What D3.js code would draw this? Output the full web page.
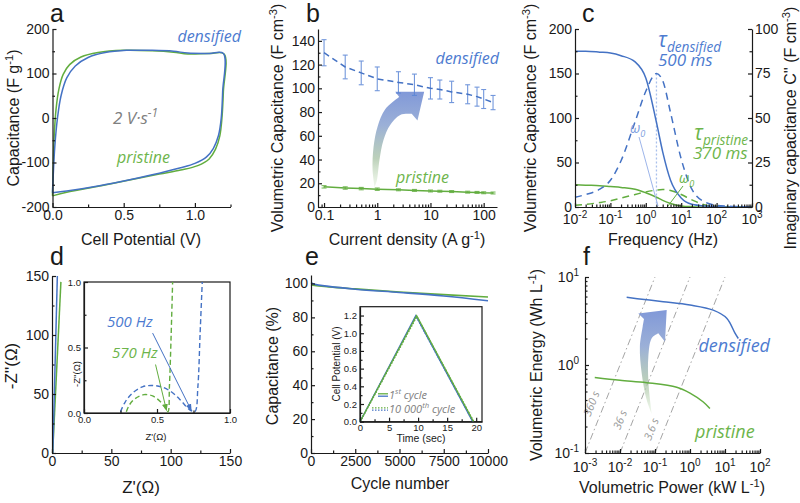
<!DOCTYPE html>
<html>
<head>
<meta charset="utf-8">
<script src="https://cdn.jsdelivr.net/npm/d3@7/dist/d3.min.js"></script>
<style>
  body { margin: 0; background: #fff; }
  svg { display: block; font-family: "Liberation Sans", Arial, sans-serif; }
</style>
</head>
<body>
<script>
// ---------------- data ----------------

// a: CV loops at 2 V/s, [potential V, capacitance F/g], charge branch then discharge branch
var cvDensified = [[0,-168],[0.005,-130],[0.016,-65],[0.035,0],[0.06,50],[0.1,90],[0.16,117],[0.25,136],[0.37,147],[0.52,152],[0.7,152],[0.85,150],[0.95,146],[1.1,145],[1.2,145],
    [1.195,60],[1.185,0],[1.165,-40],[1.13,-68],[1.08,-88],[1.0,-102],[0.9,-112],[0.75,-124],[0.55,-138],[0.33,-152],[0.1,-164],[0,-168]]
var cvPristine = [[0,-175],[0.004,-120],[0.012,-40],[0.025,20],[0.045,65],[0.075,98],[0.12,120],[0.2,137],[0.32,147],[0.5,152],[0.7,151],[0.85,148],[0.95,144],[1.1,145],[1.205,144],
    [1.2,60],[1.19,0],[1.175,-40],[1.145,-70],[1.1,-92],[1.02,-107],[0.9,-117],[0.75,-126],[0.55,-139],[0.33,-153],[0.1,-167],[0,-175]]

// b: rate capability
var currentDensity = [0.1, 0.25, 0.5, 1, 2.5, 5, 10, 15, 25, 50, 75, 100, 150]
var volCapDensified = [130, 118, 113, 108, 105, 103, 100, 99, 97, 95, 93, 91, 88]
var volCapDensifiedErr = [11, 10, 10, 10, 9, 9, 9, 8, 9, 8, 8, 8, 6]
var volCapPristine = [17, 16, 15.5, 15, 14.5, 14, 13.5, 13.3, 13, 12.5, 12.3, 12, 11.8]
var volCapPristineErr = [1, 1, 1, 1, 0.8, 0.8, 0.8, 0.8, 0.8, 0.8, 0.8, 0.8, 0.8]

// c: capacitance vs frequency (real part left axis, imaginary part right axis)
var frequency = [0.01, 0.02, 0.05, 0.1, 0.2, 0.5, 1, 2, 3, 5, 10, 20, 50, 100, 200, 500, 1000]
var cRealDensified = [175, 175, 174, 173, 170, 163, 145, 95, 62, 30, 10, 3, 1, 0.3, 0.1, 0, 0]
var cImagDensified = [5.5, 7, 10, 15, 26, 48, 65, 75, 71, 53, 27, 10, 2.5, 1, 0.5, 0.2, 0.1]
var cRealPristine = [25, 24.5, 24, 23, 22, 20, 16, 11, 7.5, 4, 1.2, 0.4, 0.1, 0, 0, 0, 0]
var cImagPristine = [1, 1.5, 2.5, 3.5, 5, 7, 8.5, 9.5, 9.8, 9.3, 7, 4, 1, 0.4, 0.2, 0.1, 0]
var peakFreqDensified = 2

// d: Nyquist plots, [Z', -Z'']
var nyqDensified = [[0.7, 0], [4.5, 150]]
var nyqPristine = [[0.55, 0], [7.5, 145]]
var nyqInsetDensified = [[0.25,0.01],[0.28,0.08],[0.33,0.15],[0.4,0.2],[0.46,0.21],[0.53,0.2],[0.6,0.16],[0.66,0.1],[0.7,0.05],[0.73,0.02],[0.76,0.01],[0.78,0.2],[0.795,0.6],[0.81,1.0]]
var nyqInsetPristine = [[0.29,0.01],[0.31,0.06],[0.35,0.11],[0.41,0.14],[0.47,0.13],[0.52,0.09],[0.55,0.05],[0.575,0.01],[0.585,0.2],[0.597,0.6],[0.607,1.0]]

// e: cycling
var cycles = [0, 200, 1000, 2500, 5000, 7500, 10000]
var retentionDensified = [100.5, 99.5, 98.3, 96.6, 94.7, 92.6, 89.8]
var retentionPristine = [99.2, 98.8, 98, 96.8, 95, 93.4, 92]
var gcdFirstDensified = [[0, 0], [9.6, 1.2], [19.4, 0]]
var gcdFirstPristine = [[0, 0], [9.75, 1.2], [19.55, 0]]
var gcdLastDensified = [[0, 0], [9.65, 1.19], [19.45, 0]]
var gcdLastPristine = [[0.05, 0], [9.8, 1.19], [19.6, 0]]

// f: Ragone plot, [power kW/L, energy Wh/L]
var ragoneDensified = [[0.0155,5.87],[0.05,5.55],[0.172,5.24],[1,4.8],[4.6,4.2],[11.2,3.4],[19.3,2.3],[24,2.0]]
var ragonePristine = [[0.0019,0.72],[0.01,0.67],[0.058,0.63],[0.417,0.56],[1,0.48],[2.4,0.38],[3.7,0.32]]
var timeConstants = [360, 36, 3.6]   // seconds, E = P * t / 3.6

// the two gradient arrows, outline in data units: left edge, head corner, tip, head corner, right edge
var arrowB = [[0.89,16.6],[0.817,31.2],[0.853,50.8],[1.013,67.7],[1.41,82.4],[2.59,92.7],[2.18,97.2],[7.62,97.2],[5.7,72.8],[4.48,78.4],[2.7,77.6],[1.75,69.1],[1.31,56.5],[1.1,39.6],[0.987,22.8]]
var arrowF = [[0.0805,0.277],[0.058,0.40],[0.0417,0.805],[0.037,1.61],[0.0444,2.72],[0.0485,3.33],[0.0333,3.86],[0.216,4.22],[0.193,1.84],[0.124,2.29],[0.0805,2.01],[0.0645,1.24],[0.0645,0.676],[0.072,0.40]]

// ---------------- drawing ----------------
var INK = "#1a1a1a", BLUE = "#4472c4", GREEN = "#62ad3f", GRAY = "#808080"
var BLUE_T = "#4d7bd0", GREEN_T = "#6db54b"
var ITAL = "'Open Sans', 'Noto Sans', sans-serif"

var svg = d3.select("body").append("svg").attr("width", 800).attr("height", 503)
var defs = svg.append("defs")

function axis(orient, scale, at, major, minor, fmt, fs) {
    var make = {left: d3.axisLeft, right: d3.axisRight, bottom: d3.axisBottom, top: d3.axisTop}[orient]
    var vertical = orient == "left" || orient == "right"
    var g = svg.append("g").attr("transform", vertical ? "translate(" + at + ",0)" : "translate(0," + at + ")")
    g.call(make(scale).tickValues(major).tickSizeInner(-4).tickSizeOuter(0).tickPadding(3).tickFormat(fmt || (d => String(d))))
    if (minor) {
        g.append("g").call(make(scale).tickValues(minor).tickSizeInner(-2.5).tickSizeOuter(0).tickFormat(""))
            .select(".domain").remove()
    }
    g.attr("font-family", null).attr("font-size", fs || 14)
    g.selectAll("text").attr("fill", INK)
    g.selectAll("line,path").attr("stroke", INK).attr("stroke-width", 1.2)
    return g
}

function powLabels(orient, scale, at, exps, off) {
    exps.forEach(function(e) {
        var t = svg.append("text").attr("font-size", 14).attr("fill", INK)
        if (orient == "bottom") t.attr("x", scale(Math.pow(10, e))).attr("y", at + off).attr("text-anchor", "middle")
        else t.attr("x", at - off).attr("y", scale(Math.pow(10, e)) + 5).attr("text-anchor", "end")
        t.append("tspan").text("10")
        t.append("tspan").attr("dy", -6).attr("font-size", 10).text(e < 0 ? "-" + (-e) : e)
    })
}

function logMinor(lo, hi) {
    var out = []
    for (var e = lo; e < hi; e++) for (var k = 2; k < 10; k++) out.push(k * Math.pow(10, e))
    return out
}

// text with ^superscript and _subscript pieces
function txt(x, y, parts, o) {
    o = o || {}
    var fs = o.size || 16
    var t = svg.append("text")
        .attr("transform", "translate(" + x + "," + y + ")" + (o.rotate ? " rotate(" + o.rotate + ")" : ""))
        .attr("text-anchor", o.anchor || "middle")
        .attr("font-size", fs)
        .attr("fill", o.color || INK)
    if (o.italic) t.attr("font-style", "italic").attr("font-family", ITAL)
    var shift = 0
    parts.forEach(function(p) {
        var s = t.append("tspan"), dy = 0
        if (p[0] == "^") { dy = -0.4 * fs; s.attr("font-size", 0.7 * fs); p = p.slice(1) }
        else if (p[0] == "_") { dy = 0.25 * fs; s.attr("font-size", 0.65 * fs); p = p.slice(1) }
        s.attr("dy", dy - shift).text(p)
        shift = dy
    })
    return t
}

function letter(x, y, s) {
    svg.append("text").attr("x", x).attr("y", y).attr("font-size", 25).attr("fill", INK).text(s)
}

function gradient(id) {
    var g = defs.append("linearGradient").attr("id", id).attr("x1", 0).attr("y1", 0).attr("x2", 0).attr("y2", 1)
    ;[[0, "#7a93d6", 0.95], [0.35, "#90a7d3", 0.9], [0.7, "#a6c1a3", 0.75], [1, "#d3e8c8", 0.35]].forEach(function(s) {
        g.append("stop").attr("offset", s[0]).attr("stop-color", s[1]).attr("stop-opacity", s[2])
    })
}
gradient("arrowGrad")

function arrowPath(pts, xs, ys) {
    var P = pts.map(function(p) { return [xs(p[0]), ys(p[1])] })
    var curve = d3.line().curve(d3.curveCatmullRom.alpha(0.5))
    var left = curve(P.slice(0, 6))
    var right = curve(P.slice(9).concat([P[0]]))
    return left + "L" + P[6] + "L" + P[7] + "L" + P[8] + "L" + right.slice(1) + "Z"
}

function marker(id, color) {
    defs.append("marker").attr("id", id).attr("viewBox", "0 0 10 10").attr("refX", 9).attr("refY", 5)
        .attr("markerWidth", 7).attr("markerHeight", 7).attr("orient", "auto")
        .append("path").attr("d", "M0,1L10,5L0,9Z").attr("fill", color)
}
marker("headBlue", BLUE)
marker("headGreen", GREEN)

function path(data, xs, ys, color, w, dash, curve) {
    var ln = d3.line().x(d => xs(d[0])).y(d => ys(d[1]))
    if (curve) ln.curve(curve)
    return svg.append("path").attr("d", ln(data)).attr("fill", "none").attr("stroke", color)
        .attr("stroke-width", w).attr("stroke-dasharray", dash || null)
}

// ---------- a ----------
var xA = d3.scaleLinear().domain([0, 1.25]).range([52.5, 230.5])
var yA = d3.scaleLinear().domain([-200, 200]).range([207, 29])
path(cvPristine, xA, yA, GREEN, 1.5, null, d3.curveCatmullRom.alpha(0.5))
path(cvDensified, xA, yA, BLUE, 1.5, null, d3.curveCatmullRom.alpha(0.5))
axis("bottom", xA, 207, [0, 0.5, 1.0], [0.25, 0.75, 1.25], d3.format(".1f"))
axis("left", yA, 52.5, [-200, -100, 0, 100, 200], [-150, -50, 50, 150])
txt(19, 118, ["Capacitance (F g", "^-1", ")"], {rotate: -90})
txt(141, 245, ["Cell Potential (V)"])
letter(50, 22, "a")
txt(241, 42, ["densified"], {italic: true, color: BLUE_T, anchor: "end"})
txt(113, 124, ["2 V·s", "^-1"], {italic: true, color: GRAY, anchor: "start", size: 17})
txt(117, 163, ["pristine"], {italic: true, color: GREEN_T, anchor: "start"})

// ---------- b ----------
var xB = d3.scaleLog().domain([0.077, 178]).range([318, 497])
var yB = d3.scaleLinear().domain([0, 150]).range([207, 29])
var bDens = currentDensity.map((c, i) => [c, volCapDensified[i], volCapDensifiedErr[i]])
var bPris = currentDensity.map((c, i) => [c, volCapPristine[i], volCapPristineErr[i]])
svg.append("path").attr("d", arrowPath(arrowB, xB, yB)).attr("fill", "url(#arrowGrad)")
;[[bDens, "#5b86d6"], [bPris, GREEN]].forEach(function(s) {
    var g = svg.append("g").attr("stroke", s[1]).attr("stroke-width", 1.1).attr("opacity", 0.85)
    s[0].forEach(function(d) {
        var x = xB(d[0]), y0 = yB(d[1] - d[2]), y1 = yB(d[1] + d[2])
        g.append("line").attr("x1", x).attr("x2", x).attr("y1", y0).attr("y2", y1)
        g.append("line").attr("x1", x - 2.5).attr("x2", x + 2.5).attr("y1", y0).attr("y2", y0)
        g.append("line").attr("x1", x - 2.5).attr("x2", x + 2.5).attr("y1", y1).attr("y2", y1)
    })
})
path(bDens, xB, yB, BLUE, 1.5, "6,4")
path(bPris, xB, yB, GREEN, 1.5)
axis("bottom", xB, 207, [0.1, 1, 10, 100], logMinor(-1, 2).concat([0.09]).filter(v => v < 178), d3.format("~g"))
axis("left", yB, 318, d3.range(0, 141, 20), d3.range(10, 150, 20))
txt(283, 118, ["Volumetric Capacitance (F cm", "^-3", ")"], {rotate: -90})
txt(407, 245, ["Current density (A g", "^-1", ")"])
letter(306, 22, "b")
txt(499, 64, ["densified"], {italic: true, color: BLUE_T, anchor: "end"})
txt(396, 183, ["pristine"], {italic: true, color: GREEN_T, anchor: "start"})

// ---------- c ----------
var xC = d3.scaleLog().domain([0.01, 1000]).range([575, 752])
var yCL = d3.scaleLinear().domain([0, 200]).range([207, 29])
var yCR = d3.scaleLinear().domain([0, 100]).range([207, 29])
var cPair = (ys) => frequency.map((f, i) => [f, ys[i]])
svg.append("line").attr("x1", xC(peakFreqDensified)).attr("x2", xC(peakFreqDensified))
    .attr("y1", yCR(75)).attr("y2", yCR(0)).attr("stroke", "#a9c0ec").attr("stroke-width", 1.3).attr("stroke-dasharray", "2,2")
var mono = d3.curveMonotoneX
path(cPair(cImagPristine), xC, yCR, GREEN, 1.5, "7,5", mono)
path(cPair(cRealPristine), xC, yCL, GREEN, 1.5, null, mono)
path(cPair(cImagDensified), xC, yCR, BLUE, 1.5, "7,5", mono)
path(cPair(cRealDensified), xC, yCL, BLUE, 1.5, null, mono)
axis("bottom", xC, 207, [0.01, 0.1, 1, 10, 100, 1000], logMinor(-2, 3), () => "")
powLabels("bottom", xC, 207, [-2, -1, 0, 1, 2, 3], 17)
axis("left", yCL, 575, [0, 50, 100, 150, 200], [25, 75, 125, 175])
axis("right", yCR, 752, [0, 25, 50, 75, 100], [12.5, 37.5, 62.5, 87.5])
txt(536, 118, ["Volumetric Capacitance (F cm", "^-3", ")"], {rotate: -90})
txt(796, 128, ["Imaginary capacitance C'' (F cm", "^-3", ")"], {rotate: -90})
txt(663, 245, ["Frequency (Hz)"])
letter(582, 22, "c")
txt(658, 47, ["τ", "_densified"], {italic: true, color: BLUE_T, anchor: "start", size: 21})
txt(658, 66, ["500 ms"], {italic: true, color: BLUE_T, anchor: "start", size: 17})
txt(694, 140, ["τ", "_pristine"], {italic: true, color: GREEN_T, anchor: "start", size: 21})
txt(693, 159, ["370 ms"], {italic: true, color: GREEN_T, anchor: "start", size: 17})
txt(630, 133, ["ω", "_0"], {italic: true, color: "#7f9fe0", anchor: "start", size: 14})
txt(679, 183, ["ω", "_0"], {italic: true, color: GREEN_T, anchor: "start", size: 14})
svg.append("line").attr("x1", 639).attr("y1", 137).attr("x2", 658).attr("y2", 206).attr("stroke", "#9db5ea").attr("stroke-width", 1)
svg.append("line").attr("x1", 683).attr("y1", 186).attr("x2", 668).attr("y2", 206).attr("stroke", GREEN).attr("stroke-width", 1)

// ---------- d ----------
var xD = d3.scaleLinear().domain([0, 150]).range([52, 230])
var yD = d3.scaleLinear().domain([0, 150]).range([453, 276])
path(nyqPristine, xD, yD, GREEN, 1.5)
path(nyqDensified, xD, yD, BLUE, 1.5)
axis("bottom", xD, 453, [0, 50, 100, 150], [25, 75, 125])
axis("left", yD, 52, [0, 50, 100, 150], [25, 75, 125])
txt(17, 366, ["-Z''(Ω)"], {rotate: -90, size: 17})
txt(141, 493, ["Z'(Ω)"], {size: 17})
letter(50, 265, "d")
// inset
var xDi = d3.scaleLinear().domain([0, 1]).range([84, 230])
var yDi = d3.scaleLinear().domain([0, 1]).range([413, 282])
svg.append("rect").attr("x", 84).attr("y", 282).attr("width", 146).attr("height", 131)
    .attr("fill", "#fff").attr("stroke", INK).attr("stroke-width", 1.2)
path(nyqInsetPristine, xDi, yDi, GREEN, 1.4, "5,3", d3.curveCatmullRom.alpha(0.5))
path(nyqInsetDensified, xDi, yDi, BLUE, 1.4, "5,3", d3.curveCatmullRom.alpha(0.5))
axis("bottom", xDi, 413, [0, 0.5, 1], [0.25, 0.75], d3.format(".1f"), 9.5)
axis("left", yDi, 84, [0, 0.5, 1], [0.25, 0.75], d3.format(".1f"), 9.5)
txt(156, 440, ["Z'(Ω)"], {size: 9.5})
txt(80, 374, ["-Z''(Ω)"], {size: 9.5, rotate: -90})
txt(107, 327, ["500 Hz"], {italic: true, color: BLUE_T, anchor: "start", size: 15})
txt(112, 358, ["570 Hz"], {italic: true, color: GREEN_T, anchor: "start", size: 15})
svg.append("line").attr("x1", xDi(0.47)).attr("y1", yDi(0.61)).attr("x2", xDi(0.735)).attr("y2", yDi(0.02))
    .attr("stroke", BLUE).attr("stroke-width", 1).attr("marker-end", "url(#headBlue)")
svg.append("line").attr("x1", xDi(0.49)).attr("y1", yDi(0.37)).attr("x2", xDi(0.565)).attr("y2", yDi(0.02))
    .attr("stroke", GREEN).attr("stroke-width", 1).attr("marker-end", "url(#headGreen)")

// ---------- e ----------
var xE = d3.scaleLinear().domain([0, 10000]).range([311, 488])
var yE = d3.scaleLinear().domain([0, 105]).range([453, 275])
path(cycles.map((c, i) => [c, retentionPristine[i]]), xE, yE, GREEN, 1.6, null, mono)
path(cycles.map((c, i) => [c, retentionDensified[i]]), xE, yE, BLUE, 1.6, null, mono)
axis("bottom", xE, 453, [0, 2500, 5000, 7500, 10000], [1250, 3750, 6250, 8750])
axis("left", yE, 311, d3.range(0, 101, 20), d3.range(10, 101, 20))
txt(278, 366, ["Capacitance (%)"], {rotate: -90})
txt(400, 489, ["Cycle number"])
letter(305, 265, "e")
// inset
var xEi = d3.scaleLinear().domain([0, 21]).range([360, 482])
var yEi = d3.scaleLinear().domain([0, 1.3]).range([421.7, 306.7])
svg.append("rect").attr("x", 360).attr("y", 306.7).attr("width", 122).attr("height", 115)
    .attr("fill", "#fff").attr("stroke", INK).attr("stroke-width", 1.2)
path(gcdFirstDensified, xEi, yEi, BLUE, 1.3)
path(gcdLastDensified, xEi, yEi, BLUE, 1.3, "1.5,1.5")
path(gcdFirstPristine, xEi, yEi, GREEN, 1.3)
path(gcdLastPristine, xEi, yEi, GREEN, 1.3, "1.5,1.5")
axis("bottom", xEi, 421.7, [0, 5, 10, 15, 20], [2.5, 7.5, 12.5, 17.5], null, 9.5)
axis("left", yEi, 360, d3.range(0, 1.21, 0.2), d3.range(0.1, 1.3, 0.2), d3.format(".1f"), 9.5)
txt(340, 364, ["Cell Potential (V)"], {size: 10, rotate: -90})
txt(421, 442, ["Time (sec)"], {size: 10.5})
// legend
;[[395, null, "1", "^st", " cycle"], [409, "1.5,1.5", "10 000", "^th", " cycle"]].forEach(function(r, i) {
    var x0 = i ? 372 : 378
    svg.append("line").attr("x1", x0).attr("x2", 388).attr("y1", r[0] - 1.2).attr("y2", r[0] - 1.2)
        .attr("stroke", GREEN).attr("stroke-width", 1.3).attr("stroke-dasharray", r[1])
    svg.append("line").attr("x1", x0).attr("x2", 388).attr("y1", r[0] + 1.2).attr("y2", r[0] + 1.2)
        .attr("stroke", BLUE).attr("stroke-width", 1.3).attr("stroke-dasharray", r[1])
    txt(389, r[0] + 3.5, r.slice(2), {size: 11, italic: true, color: GRAY, anchor: "start"})
})

// ---------- f ----------
var xF = d3.scaleLog().domain([1e-3, 1e2]).range([585, 760])
var yF = d3.scaleLog().domain([0.1, 10]).range([453, 277])
timeConstants.forEach(function(t) {
    var p0 = 0.1 * 3.6 / t, p1 = 10 * 3.6 / t
    svg.append("line").attr("x1", xF(p0)).attr("y1", yF(0.1)).attr("x2", xF(p1)).attr("y2", yF(10))
        .attr("stroke", "#9a9a9a").attr("stroke-width", 0.9).attr("stroke-dasharray", "7,3,1.5,3")
})
;[[360, 0.35], [36, 0.23], [3.6, 0.18]].forEach(function(l) {
    var px = xF(l[1] * 3.6 / l[0]) - 9, py = yF(l[1])
    txt(px, py, [l[0] + " s"], {size: 11, italic: true, color: "#999", rotate: -68})
})
svg.append("path").attr("d", arrowPath(arrowF, xF, yF)).attr("fill", "url(#arrowGrad)")
path(ragonePristine, xF, yF, GREEN, 1.5, null, d3.curveCatmullRom.alpha(0.5))
path(ragoneDensified, xF, yF, BLUE, 1.5, null, d3.curveCatmullRom.alpha(0.5))
axis("bottom", xF, 453, [1e-3, 1e-2, 1e-1, 1, 10, 100], logMinor(-3, 2), () => "")
axis("left", yF, 585, [0.1, 1, 10], logMinor(-1, 1), () => "")
powLabels("bottom", xF, 453, [-3, -2, -1, 0, 1, 2], 19)
powLabels("left", yF, 585, [-1, 0, 1], 6)
txt(542, 365, ["Volumetric Energy (Wh L", "^-1", ")"], {rotate: -90})
txt(672, 493, ["Volumetric Power (kW L", "^-1", ")"])
letter(583, 265, "f")
txt(770, 352, ["densified"], {italic: true, color: BLUE_T, anchor: "end", size: 18})
txt(695, 438, ["pristine"], {italic: true, color: GREEN_T, anchor: "start", size: 18})
</script>
</body>
</html>
